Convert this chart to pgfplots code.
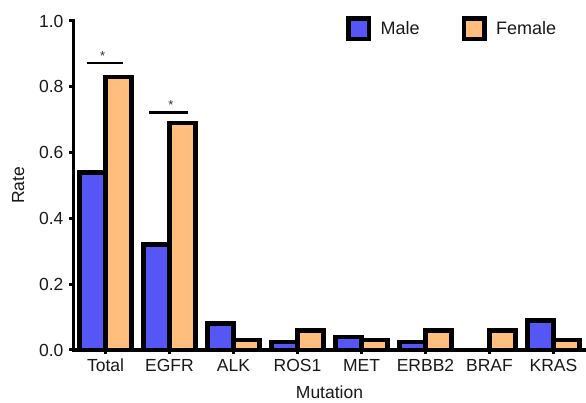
\documentclass[border=0pt]{standalone}
\usepackage{fontspec}
\setmainfont{Liberation Sans}
\usepackage{pgfplots}
\pgfplotsset{compat=1.18}
\definecolor{maleblue}{RGB}{86,86,246}
\definecolor{femaleorange}{RGB}{255,190,125}

\begin{document}
\begin{tikzpicture}
\useasboundingbox (-73.5pt,-53pt) rectangle (512.5pt,350pt);
\begin{axis}[
  scale only axis,
  width=512pt, height=329pt,
  xmin=-0.5, xmax=7.5, ymin=0, ymax=1,
  axis lines=left,
  axis line style={line width=3.5pt, -, line cap=rect},
  ybar=0pt, bar width=0.41,
  xtick={0,1,2,3,4,5,6,7},
  xticklabels={Total,EGFR,ALK,ROS1,MET,ERBB2,BRAF,KRAS},
  ytick={0,0.2,0.4,0.6,0.8,1.0},
  yticklabel style={/pgf/number format/fixed, /pgf/number format/fixed zerofill,
    /pgf/number format/precision=1, xshift=-2pt},
  /pgf/number format/assume math mode=true,
  tick style={line width=3pt, black},
  major tick length=4.5pt,
  tick align=outside,
  ticklabel style={font=\fontsize{17.5}{20}\selectfont, text=black!90},
  xticklabel style={yshift=-1pt},
  xlabel={Mutation}, ylabel={Rate},
  label style={font=\fontsize{17.5}{21}\selectfont, text=black!90},
  xlabel style={at={(axis description cs:0.5,-0.128)}, anchor=center},
  ylabel style={at={(axis description cs:-0.108,0.5)}, anchor=center},
  legend columns=2,
  legend style={draw=none, fill=none, inner sep=0pt,
    at={(rel axis cs:0.532,1.015)}, anchor=north west,
    font=\fontsize{18}{21}\selectfont, text=black!90,
    /tikz/every even column/.append style={column sep=40pt}},
  legend image code/.code={%
    \draw (0pt,-10.25pt) rectangle (20.5pt,10.25pt);
    \path (28pt,0pt);},
]
\addplot[fill=maleblue, draw=black, line width=4.5pt]
  coordinates {(0,0.54) (1,0.32) (2,0.08) (3,0.025) (4,0.04) (5,0.025) (7,0.09)};
\addplot[fill=femaleorange, draw=black, line width=4.5pt]
  coordinates {(0,0.83) (1,0.69) (2,0.03) (3,0.06) (4,0.03) (5,0.06) (6,0.06) (7,0.03)};
\legend{Male, Female}

% significance brackets
\draw[line width=2.3pt] (axis cs:-0.294,0.873) -- (axis cs:0.278,0.873);
\node[font=\fontsize{13}{13}\selectfont, text=black!80] at (axis cs:-0.044,0.895) {*};
\draw[line width=2.3pt] (axis cs:0.68,0.722) -- (axis cs:1.29,0.722);
\node[font=\fontsize{13}{13}\selectfont, text=black!80] at (axis cs:1.02,0.744) {*};
\end{axis}
\end{tikzpicture}
\end{document}
